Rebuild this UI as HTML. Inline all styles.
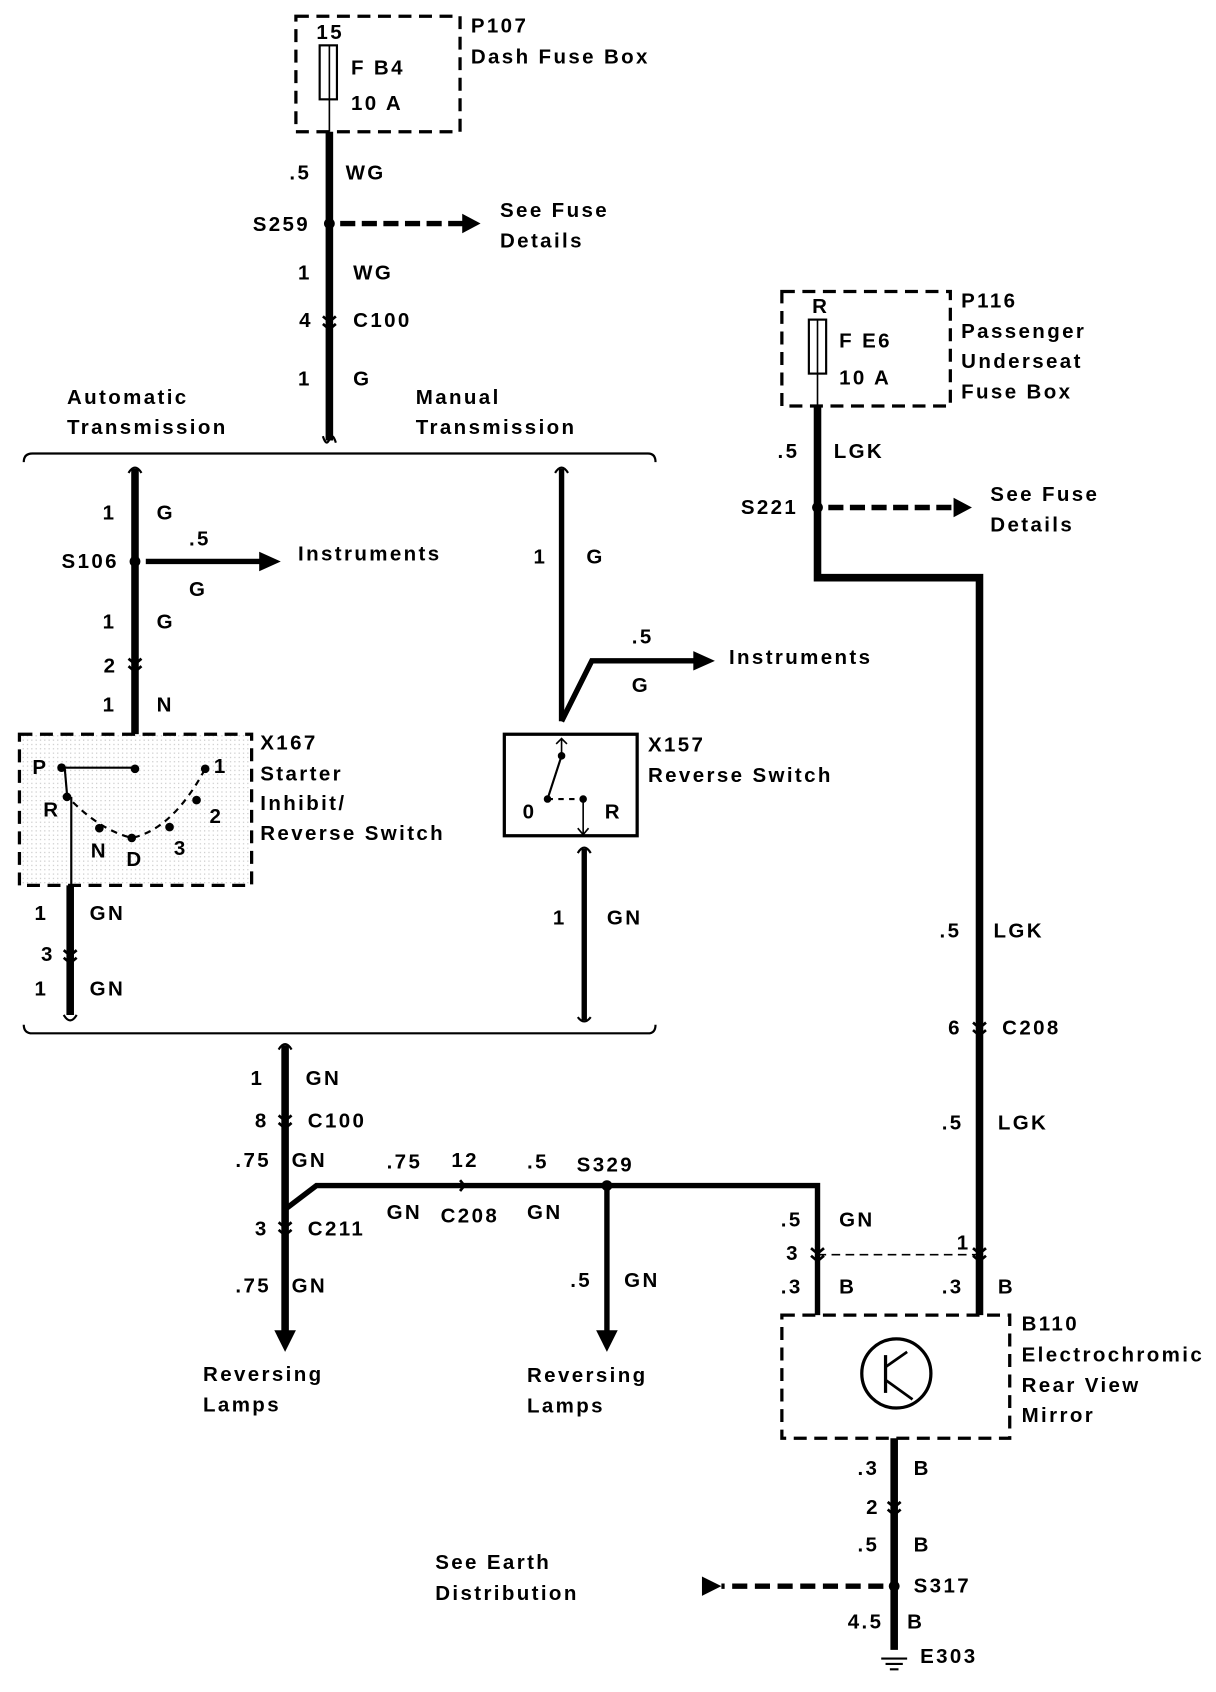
<!DOCTYPE html>
<html><head><meta charset="utf-8"><style>
html,body{margin:0;padding:0;background:#fff;}
svg{display:block;}
text{font-family:"Liberation Sans",sans-serif;font-weight:bold;font-size:19px;letter-spacing:2.2px;fill:#000;dominant-baseline:central;}
</style></head><body>
<svg width="1216" height="1692" viewBox="0 0 1126 1567" preserveAspectRatio="none" xmlns="http://www.w3.org/2000/svg">
<defs>
<pattern id="dots" width="4" height="4" patternUnits="userSpaceOnUse"><rect width="4" height="4" fill="#fff"/><rect x="1" y="1" width="1" height="1" fill="#bbb"/></pattern>
</defs>
<g stroke="#000" fill="none">
<rect x="274" y="15" width="152" height="107" stroke-width="3" stroke-dasharray="12,7"/>
<rect x="296" y="42" width="16" height="50" stroke-width="2"/>
<line x1="305" y1="42" x2="305" y2="122" stroke-width="1.5"/>
<line x1="305" y1="122" x2="305" y2="408" stroke-width="7"/>
<path d="M299,404 q3,10 6,3 q3,-7 6,3" stroke-width="2"/>
<line x1="315" y1="207" x2="430" y2="207" stroke-width="5" stroke-dasharray="14,6"/>
<path d="M22,428 q0,-8 8,-8 H600 q7,0 7,8" stroke-width="2"/>
<path d="M22,949 q0,8 8,8 H600 q7,0 7,-8" stroke-width="2"/>
<line x1="125" y1="434" x2="125" y2="680" stroke-width="7"/>
<path d="M119,438 q6,-10 12,0" stroke-width="2"/>
<line x1="135" y1="520" x2="245" y2="520" stroke-width="5"/>
<line x1="125" y1="680" x2="125" y2="712" stroke-width="1.5"/>
<rect x="18" y="680" width="215" height="140" fill="url(#dots)" stroke-width="3" stroke-dasharray="12,7"/>
<line x1="57" y1="711" x2="125" y2="711" stroke-width="2"/>
<path d="M60,735 Q90,768 122,776 Q160,768 190,712" stroke-width="2" stroke-dasharray="6,5"/>
<line x1="60" y1="712" x2="62" y2="735" stroke-width="2"/>
<line x1="66" y1="738" x2="66" y2="820" stroke-width="2"/>
<line x1="65" y1="820" x2="65" y2="940" stroke-width="7"/>
<path d="M59,940 q6,10 12,0" stroke-width="2"/>
<line x1="520" y1="434" x2="520" y2="668" stroke-width="5"/>
<path d="M514,438 q6,-10 12,0" stroke-width="2"/>
<path d="M520,668 L548,612 H645" stroke-width="5"/>
<rect x="467" y="680" width="123" height="94" stroke-width="3"/>
<line x1="520" y1="684" x2="520" y2="700" stroke-width="1.5"/>
<path d="M515,689 l5,-5 l5,5" stroke-width="1.5"/>
<line x1="520" y1="700" x2="507" y2="740" stroke-width="2"/>
<line x1="507" y1="740" x2="540" y2="740" stroke-width="2" stroke-dasharray="5,5"/>
<line x1="540" y1="740" x2="540" y2="772" stroke-width="1.5"/>
<path d="M535,767 l5,6 l5,-6" stroke-width="1.5"/>
<line x1="541" y1="786" x2="541" y2="945" stroke-width="5"/>
<path d="M535,790 q6,-10 12,0" stroke-width="2"/>
<path d="M535,942 q6,8 12,0" stroke-width="2"/>
<line x1="264" y1="968" x2="264" y2="1235" stroke-width="7"/>
<path d="M258,972 q6,-10 12,0" stroke-width="2"/>
<path d="M264,1120 L293,1098 H757 V1218" stroke-width="5"/>
<line x1="562" y1="1098" x2="562" y2="1235" stroke-width="5"/>
<rect x="724" y="270" width="156" height="106" stroke-width="3" stroke-dasharray="12,7"/>
<rect x="749" y="296" width="16" height="50" stroke-width="2"/>
<line x1="757" y1="296" x2="757" y2="376" stroke-width="1.5"/>
<path d="M757,376 V535 H907 V1218" stroke-width="7"/>
<line x1="767" y1="470" x2="885" y2="470" stroke-width="5" stroke-dasharray="14,6"/>
<line x1="757" y1="1162" x2="907" y2="1162" stroke-width="1.5" stroke-dasharray="8,5"/>
<rect x="724" y="1218" width="211" height="114" stroke-width="3" stroke-dasharray="12,7"/>
<circle cx="830" cy="1272" r="32" stroke-width="3"/>
<line x1="820" y1="1255" x2="820" y2="1290" stroke-width="3"/>
<path d="M820,1266 L840,1252 M820,1278 L845,1296" stroke-width="2.5"/>
<line x1="828" y1="1332" x2="828" y2="1528" stroke-width="7"/>
<line x1="818" y1="1469" x2="668" y2="1469" stroke-width="5" stroke-dasharray="14,7"/>
<path d="M816,1536 h24 M820,1541 h16 M824,1546 h8" stroke-width="2"/>
<path d="M299,293 l6,5 l6,-5 M299,300 l6,5 l6,-5" stroke-width="2.5"/>
<path d="M119,610 l6,5 l6,-5 M119,617 l6,5 l6,-5" stroke-width="2.5"/>
<path d="M59,880 l6,5 l6,-5 M59,887 l6,5 l6,-5" stroke-width="2.5"/>
<path d="M258,1033 l6,5 l6,-5 M258,1040 l6,5 l6,-5" stroke-width="2.5"/>
<path d="M258,1132 l6,5 l6,-5 M258,1139 l6,5 l6,-5" stroke-width="2.5"/>
<path d="M426,1093 l4,5 l-4,5" stroke-width="2.5"/>
<path d="M901,947 l6,5 l6,-5 M901,954 l6,5 l6,-5" stroke-width="2.5"/>
<path d="M901,1156 l6,5 l6,-5 M901,1163 l6,5 l6,-5" stroke-width="2.5"/>
<path d="M751,1156 l6,5 l6,-5 M751,1163 l6,5 l6,-5" stroke-width="2.5"/>
<path d="M822,1391 l6,5 l6,-5 M822,1398 l6,5 l6,-5" stroke-width="2.5"/>
</g>
<g fill="#000">
<polygon points="428,198 445,207 428,216"/>
<polygon points="240,511 260,520 240,529"/>
<polygon points="642,603 662,612 642,621"/>
<polygon points="883,461 900,470 883,479"/>
<polygon points="254,1232 274,1232 264,1252"/>
<polygon points="552,1232 572,1232 562,1252"/>
<polygon points="650,1460 668,1469 650,1478"/>
<circle cx="305" cy="207" r="5"/><circle cx="125" cy="520" r="5"/>
<circle cx="757" cy="470" r="5"/><circle cx="562" cy="1098" r="5"/><circle cx="828" cy="1469" r="5"/>
<circle cx="57" cy="711" r="4"/><circle cx="125" cy="712" r="4"/><circle cx="190" cy="712" r="4"/>
<circle cx="62" cy="738" r="4"/><circle cx="92" cy="767" r="4"/><circle cx="122" cy="776" r="4"/>
<circle cx="157" cy="766" r="4"/><circle cx="182" cy="741" r="4"/>
<circle cx="520" cy="700" r="3.5"/><circle cx="507" cy="740" r="3.5"/><circle cx="540" cy="740" r="3.5"/>
</g>
<g>
<text x="293" y="30">15</text><text x="325" y="63">F B4</text><text x="325" y="96">10 A</text>
<text x="436" y="24">P107</text><text x="436" y="53">Dash Fuse Box</text>
<text x="268" y="160">.5</text><text x="320" y="160">WG</text>
<text x="234" y="208">S259</text>
<text x="463" y="195">See Fuse</text><text x="463" y="223">Details</text>
<text x="276" y="253">1</text><text x="327" y="253">WG</text>
<text x="277" y="297">4</text><text x="327" y="297">C100</text>
<text x="276" y="351">1</text><text x="327" y="351">G</text>
<text x="62" y="368">Automatic</text><text x="62" y="396">Transmission</text>
<text x="385" y="368">Manual</text><text x="385" y="396">Transmission</text>
<text x="95" y="475">1</text><text x="145" y="475">G</text>
<text x="57" y="520">S106</text>
<text x="175" y="499">.5</text><text x="175" y="546">G</text><text x="276" y="513">Instruments</text>
<text x="95" y="576">1</text><text x="145" y="576">G</text>
<text x="96" y="617">2</text>
<text x="95" y="653">1</text><text x="145" y="653">N</text>
<text x="30" y="711">P</text><text x="198" y="710">1</text>
<text x="40" y="750">R</text><text x="194" y="756">2</text>
<text x="84" y="788">N</text><text x="117" y="796">D</text><text x="161" y="786">3</text>
<text x="241" y="688">X167</text><text x="241" y="717">Starter</text><text x="241" y="744">Inhibit/</text><text x="241" y="772">Reverse Switch</text>
<text x="32" y="846">1</text><text x="83" y="846">GN</text>
<text x="38" y="884">3</text>
<text x="32" y="916">1</text><text x="83" y="916">GN</text>
<text x="494" y="516">1</text><text x="543" y="516">G</text>
<text x="585" y="590">.5</text><text x="585" y="635">G</text><text x="675" y="609">Instruments</text>
<text x="484" y="752">0</text><text x="560" y="752">R</text>
<text x="600" y="690">X157</text><text x="600" y="718">Reverse Switch</text>
<text x="512" y="850">1</text><text x="562" y="850">GN</text>
<text x="232" y="999">1</text><text x="283" y="999">GN</text>
<text x="236" y="1038">8</text><text x="285" y="1038">C100</text>
<text x="218" y="1075">.75</text><text x="270" y="1075">GN</text>
<text x="236" y="1138">3</text><text x="285" y="1138">C211</text>
<text x="218" y="1191">.75</text><text x="270" y="1191">GN</text>
<text x="188" y="1273">Reversing</text><text x="188" y="1301">Lamps</text>
<text x="358" y="1076">.75</text><text x="418" y="1075">12</text><text x="488" y="1076">.5</text><text x="534" y="1079">S329</text>
<text x="358" y="1123">GN</text><text x="408" y="1126">C208</text><text x="488" y="1123">GN</text>
<text x="528" y="1186">.5</text><text x="578" y="1186">GN</text>
<text x="488" y="1274">Reversing</text><text x="488" y="1302">Lamps</text>
<text x="723" y="1130">.5</text><text x="777" y="1130">GN</text>
<text x="728" y="1161">3</text>
<text x="723" y="1192">.3</text><text x="777" y="1192">B</text>
<text x="752" y="284">R</text><text x="777" y="316">F E6</text><text x="777" y="350">10 A</text>
<text x="890" y="279">P116</text><text x="890" y="307">Passenger</text><text x="890" y="335">Underseat</text><text x="890" y="363">Fuse Box</text>
<text x="720" y="418">.5</text><text x="772" y="418">LGK</text>
<text x="686" y="470">S221</text>
<text x="917" y="458">See Fuse</text><text x="917" y="486">Details</text>
<text x="870" y="862">.5</text><text x="920" y="862">LGK</text>
<text x="878" y="952">6</text><text x="928" y="952">C208</text>
<text x="872" y="1040">.5</text><text x="924" y="1040">LGK</text>
<text x="886" y="1151">1</text>
<text x="872" y="1192">.3</text><text x="924" y="1192">B</text>
<text x="946" y="1226">B110</text><text x="946" y="1255">Electrochromic</text><text x="946" y="1283">Rear View</text><text x="946" y="1311">Mirror</text>
<text x="794" y="1360">.3</text><text x="846" y="1360">B</text>
<text x="802" y="1396">2</text>
<text x="794" y="1431">.5</text><text x="846" y="1431">B</text>
<text x="846" y="1469">S317</text>
<text x="403" y="1447">See Earth</text><text x="403" y="1476">Distribution</text>
<text x="785" y="1502">4.5</text><text x="840" y="1502">B</text>
<text x="852" y="1534">E303</text>
</g>
</svg>
</body></html>
